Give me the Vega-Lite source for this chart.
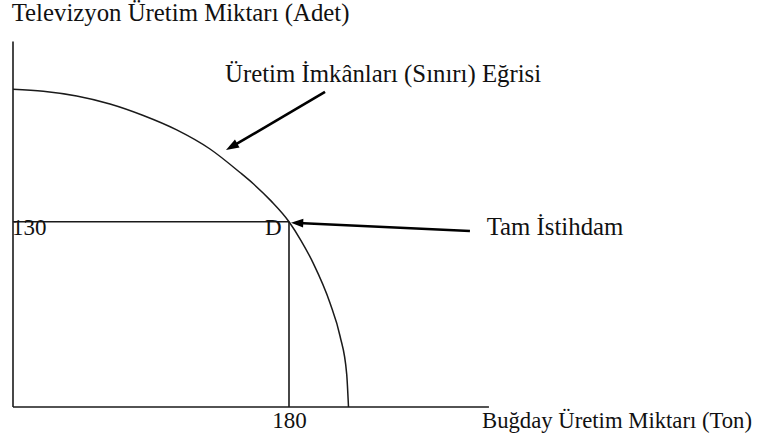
{
  "$schema": "https://vega.github.io/schema/vega-lite/v6.json",
  "width": 779,
  "height": 439,
  "padding": 0,
  "autosize": {"type": "none"},
  "background": "white",
  "config": {"view": {"stroke": null}},
  "datasets": {
    "frame": [
      {"x": 0, "y": 0, "x2": 0, "y2": 256.5, "part": "y-axis"},
      {"x": 0, "y": 0, "x2": 310.4, "y2": 0, "part": "x-axis"},
      {"x": 0, "y": 130, "x2": 180, "y2": 130, "part": "televizyon 130"},
      {"x": 180, "y": 0, "x2": 180, "y2": 130, "part": "bugday 180"}
    ],
    "curve": [
      {"x": 0, "y": 222.9},
      {"x": 19.76, "y": 221.55},
      {"x": 41.54, "y": 218.18},
      {"x": 63.26, "y": 212.57},
      {"x": 84.98, "y": 204.5},
      {"x": 106.76, "y": 194.4},
      {"x": 128.48, "y": 181.0},
      {"x": 148.05, "y": 164.5},
      {"x": 156.72, "y": 156.6},
      {"x": 168.26, "y": 144.6},
      {"x": 180, "y": 130},
      {"x": 187.83, "y": 116.8},
      {"x": 195.85, "y": 100.8},
      {"x": 206.74, "y": 73.0},
      {"x": 213.27, "y": 49.8},
      {"x": 217.63, "y": 23.1},
      {"x": 218.8, "y": 0}
    ],
    "arrows": [
      {"x": 203.5, "y": 221.0, "x2": 143.0, "y2": 182.8, "name": "egri"},
      {"x": 298.0, "y": 123.5, "x2": 185.9, "y2": 129.1, "name": "tam"}
    ]
  },
  "layer": [
    {
      "data": {"name": "frame"},
      "mark": {"type": "rule", "color": "#1a1a1a", "strokeWidth": 1.6},
      "encoding": {
        "x": {"field": "x", "type": "quantitative", "scale": {"domain": [-8.478, 499.57], "nice": false, "zero": false}, "axis": null},
        "y": {"field": "y", "type": "quantitative", "scale": {"domain": [-22.45, 285.53], "nice": false, "zero": false}, "axis": null},
        "x2": {"field": "x2"},
        "y2": {"field": "y2"}
      }
    },
    {
      "data": {"name": "curve"},
      "mark": {"type": "line", "color": "#1a1a1a", "strokeWidth": 1.5, "interpolate": "monotone"},
      "encoding": {
        "x": {"field": "x", "type": "quantitative", "axis": null},
        "y": {"field": "y", "type": "quantitative", "axis": null},
        "order": {"field": "x", "type": "quantitative"}
      }
    },
    {
      "data": {"name": "arrows"},
      "mark": {"type": "rule", "color": "#000000", "strokeWidth": 2.6},
      "encoding": {
        "x": {"field": "x", "type": "quantitative", "axis": null},
        "y": {"field": "y", "type": "quantitative", "axis": null},
        "x2": {"field": "x2"},
        "y2": {"field": "y2"}
      }
    },
    {
      "data": {"values": [{"x": 138.9, "y": 180.3}]},
      "mark": {"type": "point", "filled": true, "opacity": 1, "color": "#000000", "shape": "M0,0L0.7,2L-0.7,2Z", "size": 169, "angle": 240},
      "encoding": {
        "x": {"field": "x", "type": "quantitative", "axis": null},
        "y": {"field": "y", "type": "quantitative", "axis": null}
      }
    },
    {
      "data": {"values": [{"x": 181.3, "y": 129.3}]},
      "mark": {"type": "point", "filled": true, "opacity": 1, "color": "#000000", "shape": "M0,0L0.72,2L-0.72,2Z", "size": 150, "angle": 272},
      "encoding": {
        "x": {"field": "x", "type": "quantitative", "axis": null},
        "y": {"field": "y", "type": "quantitative", "axis": null}
      }
    },
    {
      "data": {"values": [{"x": -0.85, "y": 271.0, "label": "Televizyon Üretim Miktarı (Adet)"}]},
      "mark": {"type": "text", "align": "left", "baseline": "alphabetic", "font": "Liberation Serif", "fontSize": 24.8, "color": "#111111"},
      "encoding": {
        "x": {"field": "x", "type": "quantitative", "axis": null},
        "y": {"field": "y", "type": "quantitative", "axis": null},
        "text": {"field": "label"}
      }
    },
    {
      "data": {"values": [{"x": 138.3, "y": 228.0, "label": "Üretim İmkânları (Sınırı) Eğrisi"}, {"x": 308.9, "y": 120.7, "label": "Tam İstihdam"}]},
      "mark": {"type": "text", "align": "left", "baseline": "alphabetic", "font": "Liberation Serif", "fontSize": 24.8, "color": "#111111"},
      "encoding": {
        "x": {"field": "x", "type": "quantitative", "axis": null},
        "y": {"field": "y", "type": "quantitative", "axis": null},
        "text": {"field": "label"}
      }
    },
    {
      "data": {"values": [{"x": 305.9, "y": -14.7, "label": "Buğday Üretim Miktarı (Ton)"}]},
      "mark": {"type": "text", "align": "left", "baseline": "alphabetic", "font": "Liberation Serif", "fontSize": 22.7, "color": "#111111"},
      "encoding": {
        "x": {"field": "x", "type": "quantitative", "axis": null},
        "y": {"field": "y", "type": "quantitative", "axis": null},
        "text": {"field": "label"}
      }
    },
    {
      "data": {"values": [{"x": -0.65, "y": 120.7, "label": "130"}, {"x": 164.3, "y": 120.7, "label": "D"}]},
      "mark": {"type": "text", "align": "left", "baseline": "alphabetic", "font": "Liberation Serif", "fontSize": 23, "color": "#111111"},
      "encoding": {
        "x": {"field": "x", "type": "quantitative", "axis": null},
        "y": {"field": "y", "type": "quantitative", "axis": null},
        "text": {"field": "label"}
      }
    },
    {
      "data": {"values": [{"x": 180.3, "y": -14.7, "label": "180"}]},
      "mark": {"type": "text", "align": "center", "baseline": "alphabetic", "font": "Liberation Serif", "fontSize": 23, "color": "#111111"},
      "encoding": {
        "x": {"field": "x", "type": "quantitative", "axis": null},
        "y": {"field": "y", "type": "quantitative", "axis": null},
        "text": {"field": "label"}
      }
    }
  ]
}
